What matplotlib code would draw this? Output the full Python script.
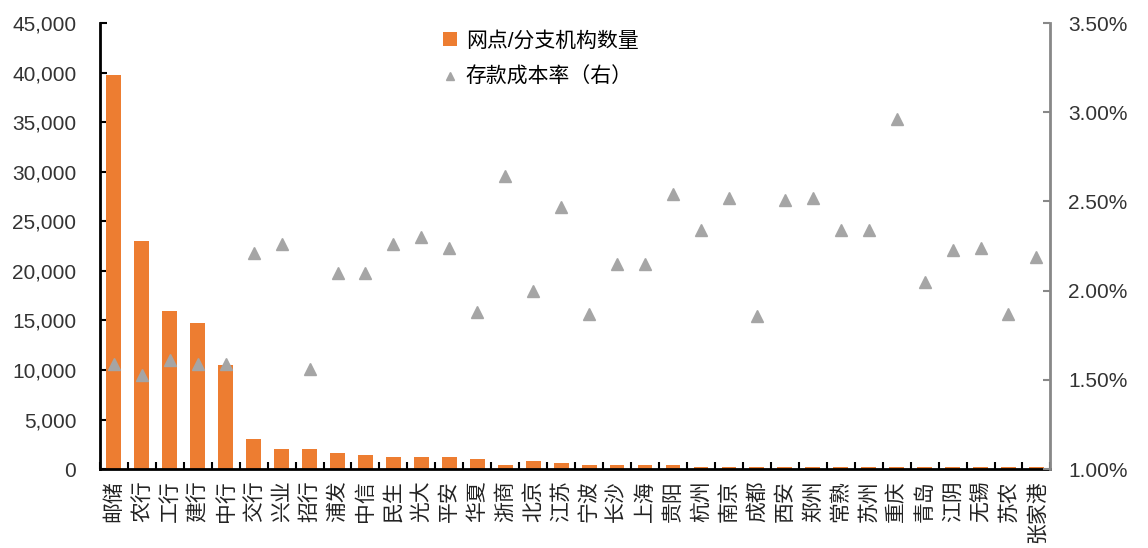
import matplotlib.pyplot as plt
import matplotlib.ticker as mticker
import numpy as np

plt.rcParams['font.family'] = ['Liberation Sans', 'Noto Sans CJK SC', 'DejaVu Sans']

banks = ['邮储', '农行', '工行', '建行', '中行', '交行', '兴业', '招行', '浦发', '中信',
         '民生', '光大', '平安', '华夏', '浙商', '北京', '江苏', '宁波', '长沙', '上海',
         '贵阳', '杭州', '南京', '成都', '西安', '郑州', '常熟', '苏州', '重庆', '青岛',
         '江阴', '无锡', '苏农', '张家港']
branches = [39800, 23000, 15900, 14700, 10500, 3000, 2000, 2000, 1600, 1400,
            1200, 1200, 1200, 1000, 400, 800, 600, 400, 400, 400,
            400, 200, 200, 200, 200, 200, 200, 200, 200, 200,
            200, 200, 200, 200]
cost_rate = [1.59, 1.53, 1.61, 1.59, 1.59, 2.21, 2.26, 1.56, 2.10, 2.10,
             2.26, 2.30, 2.24, 1.88, 2.64, 2.00, 2.47, 1.87, 2.15, 2.15,
             2.54, 2.34, 2.52, 1.86, 2.51, 2.52, 2.34, 2.34, 2.96, 2.05,
             2.23, 2.24, 1.87, 2.19]

x = np.arange(len(banks))

fig = plt.figure(figsize=(11.48, 5.48), dpi=100)
ax = fig.add_axes([0.087, 0.144, 0.828, 0.814])
ax2 = ax.twinx()

bars = ax.bar(x, branches, width=0.53, color='#ED7D31', zorder=2)
tri, = ax2.plot(x, cost_rate, linestyle='none', marker='^', markersize=8.5,
                color='#A5A5A5', zorder=3)

ax.set_xlim(-0.5, len(banks) - 0.5)
ax.set_ylim(0, 45000)
ax.set_yticks(np.arange(0, 45001, 5000))
ax.yaxis.set_major_formatter(mticker.FuncFormatter(lambda v, p: f'{int(v):,}'))
ax2.set_ylim(1.0, 3.5)
ax2.set_yticks(np.arange(1.0, 3.51, 0.5))
ax2.yaxis.set_major_formatter(mticker.FuncFormatter(lambda v, p: f'{v:.2f}%'))

ax.set_xticks(x)
ax.set_xticklabels(banks, rotation=90, fontsize=15, color='#222222')
ax.set_xticks(np.arange(-0.5, len(banks), 1), minor=True)
ax.tick_params(axis='x', which='major', length=0, pad=8)
ax.tick_params(axis='x', which='minor', direction='in', length=5, width=1.5, color='black')
ax.tick_params(axis='y', direction='in', length=5, width=1.5, labelsize=15,
               labelcolor='#333333', pad=17)
ax2.tick_params(axis='y', direction='in', length=5, width=1.5, color='#888888',
                labelsize=15, labelcolor='#333333', pad=13)

for a in (ax, ax2):
    a.spines['top'].set_visible(False)
ax.spines['right'].set_visible(False)
ax2.spines['left'].set_visible(False)
ax2.spines['bottom'].set_visible(False)
ax.spines['left'].set_linewidth(2)
ax.spines['bottom'].set_linewidth(2)
ax2.spines['right'].set_color('#888888')
ax2.spines['right'].set_linewidth(2)

leg = ax.legend([bars, tri], ['网点/分支机构数量', '存款成本率（右）'],
                loc='upper left', bbox_to_anchor=(0.341, 1.025), frameon=False,
                fontsize=15, labelspacing=0.8, handlelength=0.7, handletextpad=0.4)
leg.legend_handles[1].set_markersize(6)

fig.savefig('out.png', dpi=100)
